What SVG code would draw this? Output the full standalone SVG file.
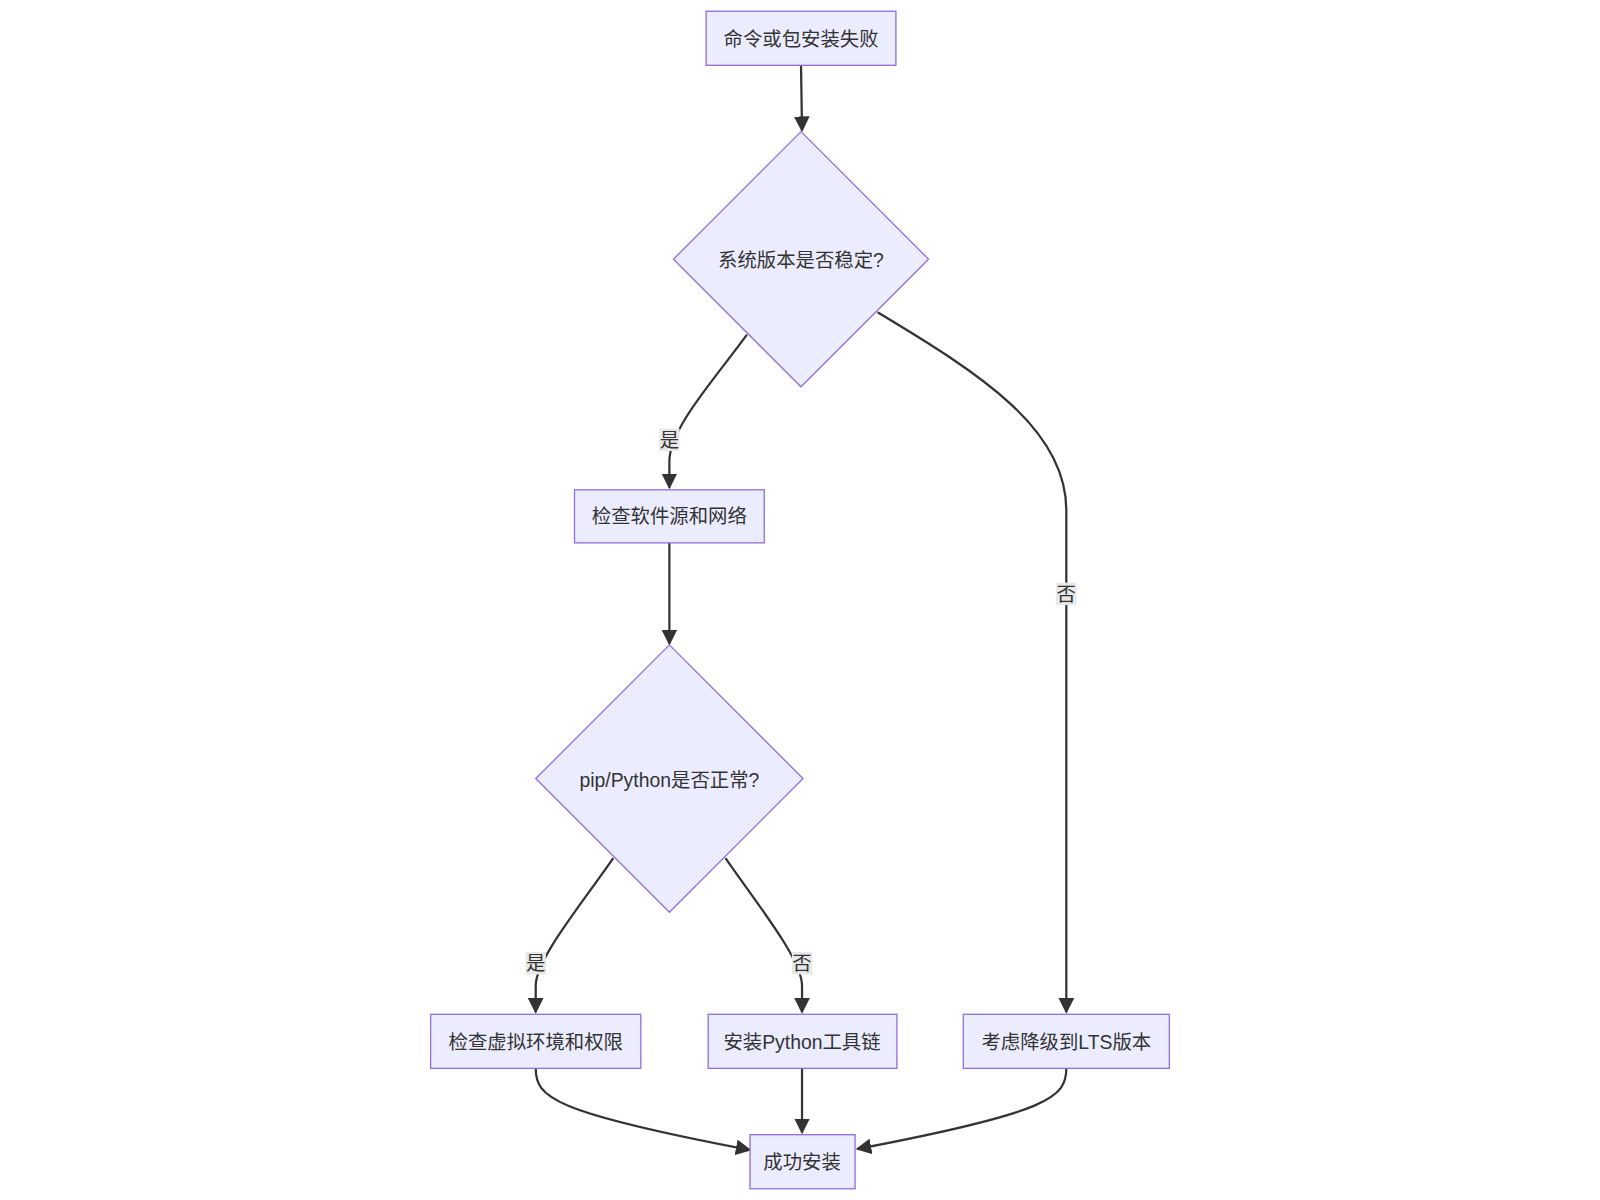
<svg xmlns="http://www.w3.org/2000/svg" width="1600" height="1200" viewBox="0 0 1600 1200">
<style>
.n{fill:#ECECFF;stroke:#9370DB;stroke-width:1.3}
.t{font-family:"Liberation Sans","Noto Sans CJK SC",sans-serif;font-size:19px;fill:#333;text-anchor:middle;dominant-baseline:central}
.e{fill:none;stroke:#333;stroke-width:2.2}
.lb{fill:#e8e8e8}
</style>
<defs><marker id="a" viewBox="0 0 10 10" refX="9" refY="5" markerWidth="7" markerHeight="7" orient="auto"><path d="M0,0L10,5L0,10z" fill="#333"/></marker></defs>
<rect width="1600" height="1200" fill="#fff"/>
<g transform="scale(1.0204)">
<g id="edges">
<path class="e" marker-end="url(#a)" d="M785,64L786,128"/>
<path class="e" marker-end="url(#a)" d="M732,328C700,372 656,420 656,452L656,478"/>
<path class="e" marker-end="url(#a)" d="M860,306C960,366 1045,420 1045,500L1045,992"/>
<path class="e" marker-end="url(#a)" d="M656,532L656,631"/>
<path class="e" marker-end="url(#a)" d="M601,841C570,886 525,940 525,966L525,992"/>
<path class="e" marker-end="url(#a)" d="M711,841C742,886 786,940 786,966L786,992"/>
<path class="e" marker-end="url(#a)" d="M525,1047C525,1075 540,1090 735,1127"/>
<path class="e" marker-end="url(#a)" d="M786,1047L786,1110"/>
<path class="e" marker-end="url(#a)" d="M1045,1047C1045,1075 1030,1090 840,1126"/>
<rect class="lb" x="646" y="420" width="20" height="22"/><text class="t" x="656" y="431">是</text>
<rect class="lb" x="1035" y="571" width="20" height="22"/><text class="t" x="1045" y="582">否</text>
<rect class="lb" x="515" y="933" width="20" height="22"/><text class="t" x="525" y="944">是</text>
<rect class="lb" x="776" y="933" width="20" height="22"/><text class="t" x="786" y="944">否</text>
</g>
<g id="n1"><rect class="n" x="692" y="11" width="186" height="53"/><text class="t" x="785" y="38">命令或包安装失败</text></g>
<g id="n2"><path class="n" d="M785,129L910,254L785,379L660,254z"/><text class="t" x="785" y="255">系统版本是否稳定?</text></g>
<g id="n3"><rect class="n" x="563" y="480" width="186" height="52"/><text class="t" x="656" y="506">检查软件源和网络</text></g>
<g id="n4"><path class="n" d="M656,632L787,763L656,894L525,763z"/><text class="t" x="656" y="764">pip/Python是否正常?</text></g>
<g id="n5"><rect class="n" x="422" y="994" width="206" height="53"/><text class="t" x="525" y="1021">检查虚拟环境和权限</text></g>
<g id="n6"><rect class="n" x="694" y="994" width="185" height="53"/><text class="t" x="786" y="1021">安装Python工具链</text></g>
<g id="n7"><rect class="n" x="944" y="994" width="202" height="53"/><text class="t" x="1045" y="1021">考虑降级到LTS版本</text></g>
<g id="n8"><rect class="n" x="735" y="1112" width="103" height="53"/><text class="t" x="786" y="1139">成功安装</text></g>
</g>
</svg>
